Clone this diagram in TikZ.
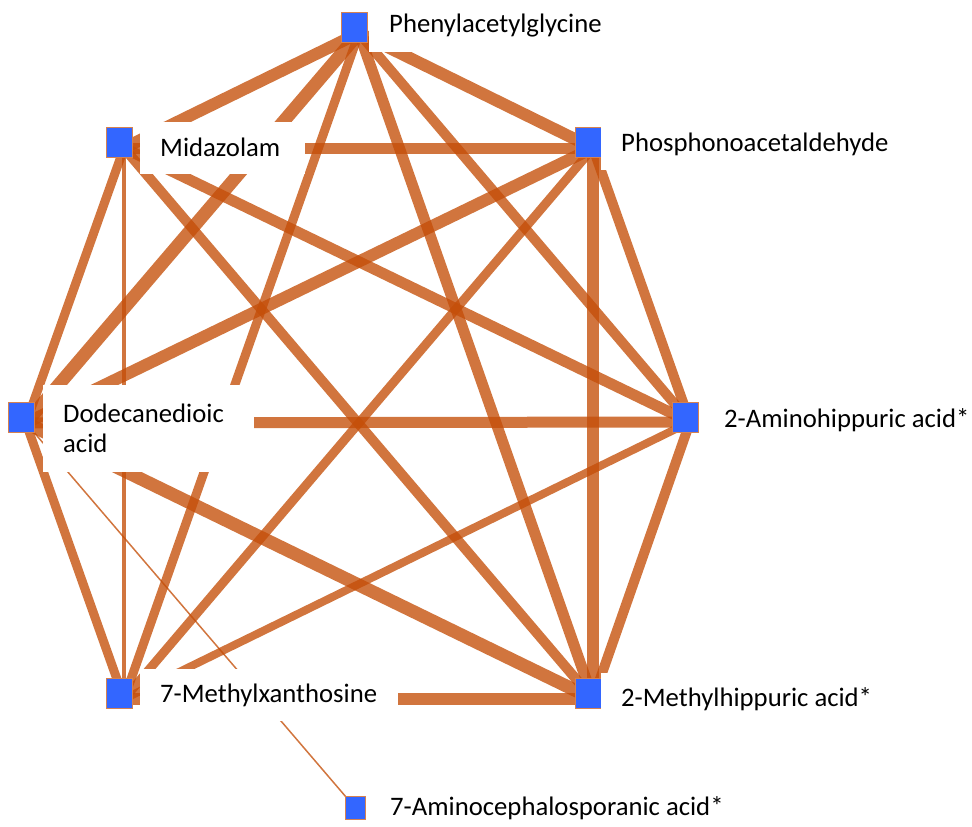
\documentclass[tikz,border=0pt]{standalone}
\usepackage{fontspec}
\setmainfont{Carlito}
\usetikzlibrary{backgrounds}
\definecolor{edgeorange}{RGB}{196,78,8}
\definecolor{nodeblue}{RGB}{51,102,255}
\definecolor{boxrim}{RGB}{214,130,80}
\tikzset{
    metab/.style={rectangle, fill=nodeblue, draw=boxrim, line width=0.8pt,
                  minimum width=26pt, minimum height=30pt, inner sep=0pt},
    metabsm/.style={metab, minimum width=20pt, minimum height=23pt},
    link/.style={draw=edgeorange, line width=#1pt, draw opacity=0.78},
    lbl/.style={fill=white, anchor=west, inner xsep=20pt, inner ysep=0pt,
                minimum height=52pt, align=left, font=\fontsize{26.7}{30}\selectfont},
}

\begin{document}
\begin{tikzpicture}[x=1pt, y=-1pt]
    \useasboundingbox (0,0) rectangle (972,827);

    % ── Metabolite boxes ───────────────────────────────────────────
    \node[metab]   (phbox)    at (354, 27)  {};
    \node[metab]   (midbox)   at (119, 142) {};
    \node[metab]   (phosbox)  at (588, 142) {};
    \node[metab]   (dodbox)   at (21, 417)  {};
    \node[metab]   (aminobox) at (685, 417) {};
    \node[metab]   (mxbox)    at (119, 693) {};
    \node[metab]   (mhbox)    at (588, 693) {};
    \node[metabsm] (acbox)    at (355, 808) {};

    % ── Hubs where the links meet ──────────────────────────────────
    \coordinate (ph)    at ([shift={(5,6)}]phbox.center);
    \coordinate (mid)   at ([shift={(5,6)}]midbox.center);
    \coordinate (phos)  at ([shift={(5,6)}]phosbox.center);
    \coordinate (dod)   at ([shift={(5,6)}]dodbox.center);
    \coordinate (amino) at ([shift={(5,5)}]aminobox.center);
    \coordinate (mx)    at ([shift={(5,6)}]mxbox.center);
    \coordinate (mh)    at ([shift={(5,6)}]mhbox.center);
    \coordinate (ac)    at ([shift={(3,3)}]acbox.center);

    % ── Links ──────────────────────────────────────────────────────
    \begin{scope}[on background layer]
        % Phenylacetylglycine
        \draw[link=12] (ph) -- (mid);
        \draw[link=12] (ph) -- (phos);
        \draw[link=13] (ph) -- (dod);
        \draw[link=10] (ph) -- (amino);
        \draw[link=11] (ph) -- (mh);
        \draw[link=9]  (ph) -- (mx);

        % Midazolam
        \draw[link=11] (mid) -- (phos);
        \draw[link=9]  (mid) -- (dod);
        \draw[link=11] (mid) -- (amino);
        \draw[link=10] (mid) -- (mh);
        \draw[link=4]  (mid) -- (mx);

        % Phosphonoacetaldehyde
        \draw[link=12] (phos) -- (dod);
        \draw[link=10] (phos) -- (amino);
        \draw[link=12] (phos) -- (mh);
        \draw[link=9]  (phos) -- (mx);

        % Dodecanedioic acid
        \draw[link=11] (dod) -- (amino);
        \draw[link=9]  (dod) -- (mx);
        \draw[link=13] (dod) -- (mh);
        \draw[link=1.5] (dod) -- (ac);

        % 2-Aminohippuric acid*
        \draw[link=8]  (amino) -- (mx);
        \draw[link=10] (amino) -- (mh);

        % 7-Methylxanthosine
        \draw[link=12] (mx) -- (mh);
    \end{scope}

    % ── Labels ─────────────────────────────────────────────────────
    \node[lbl] (phlbl)    at (369, 25.5)  {Phenylacetylglycine};
    \node[lbl, text width=125pt] (midlbl) at (140, 147.5) {Midazolam};
    \node[lbl] (phoslbl)  at (601, 144)   {Phosphonoacetaldehyde};
    \node[lbl, text width=171pt, minimum height=87pt] (dodlbl) at (43, 428.5) {Dodecanedioic\\acid};
    \node[lbl] (aminolbl) at (704, 420)   {2-Aminohippuric acid*};
    \node[lbl, text width=218pt] (mxlbl) at (140, 695) {7-Methylxanthosine};
    \node[lbl] (mhlbl)    at (601, 699)   {2-Methylhippuric acid*};
    \node[lbl] (aclbl)    at (370, 808)   {7-Aminocephalosporanic acid*};

\end{tikzpicture}
\end{document}
